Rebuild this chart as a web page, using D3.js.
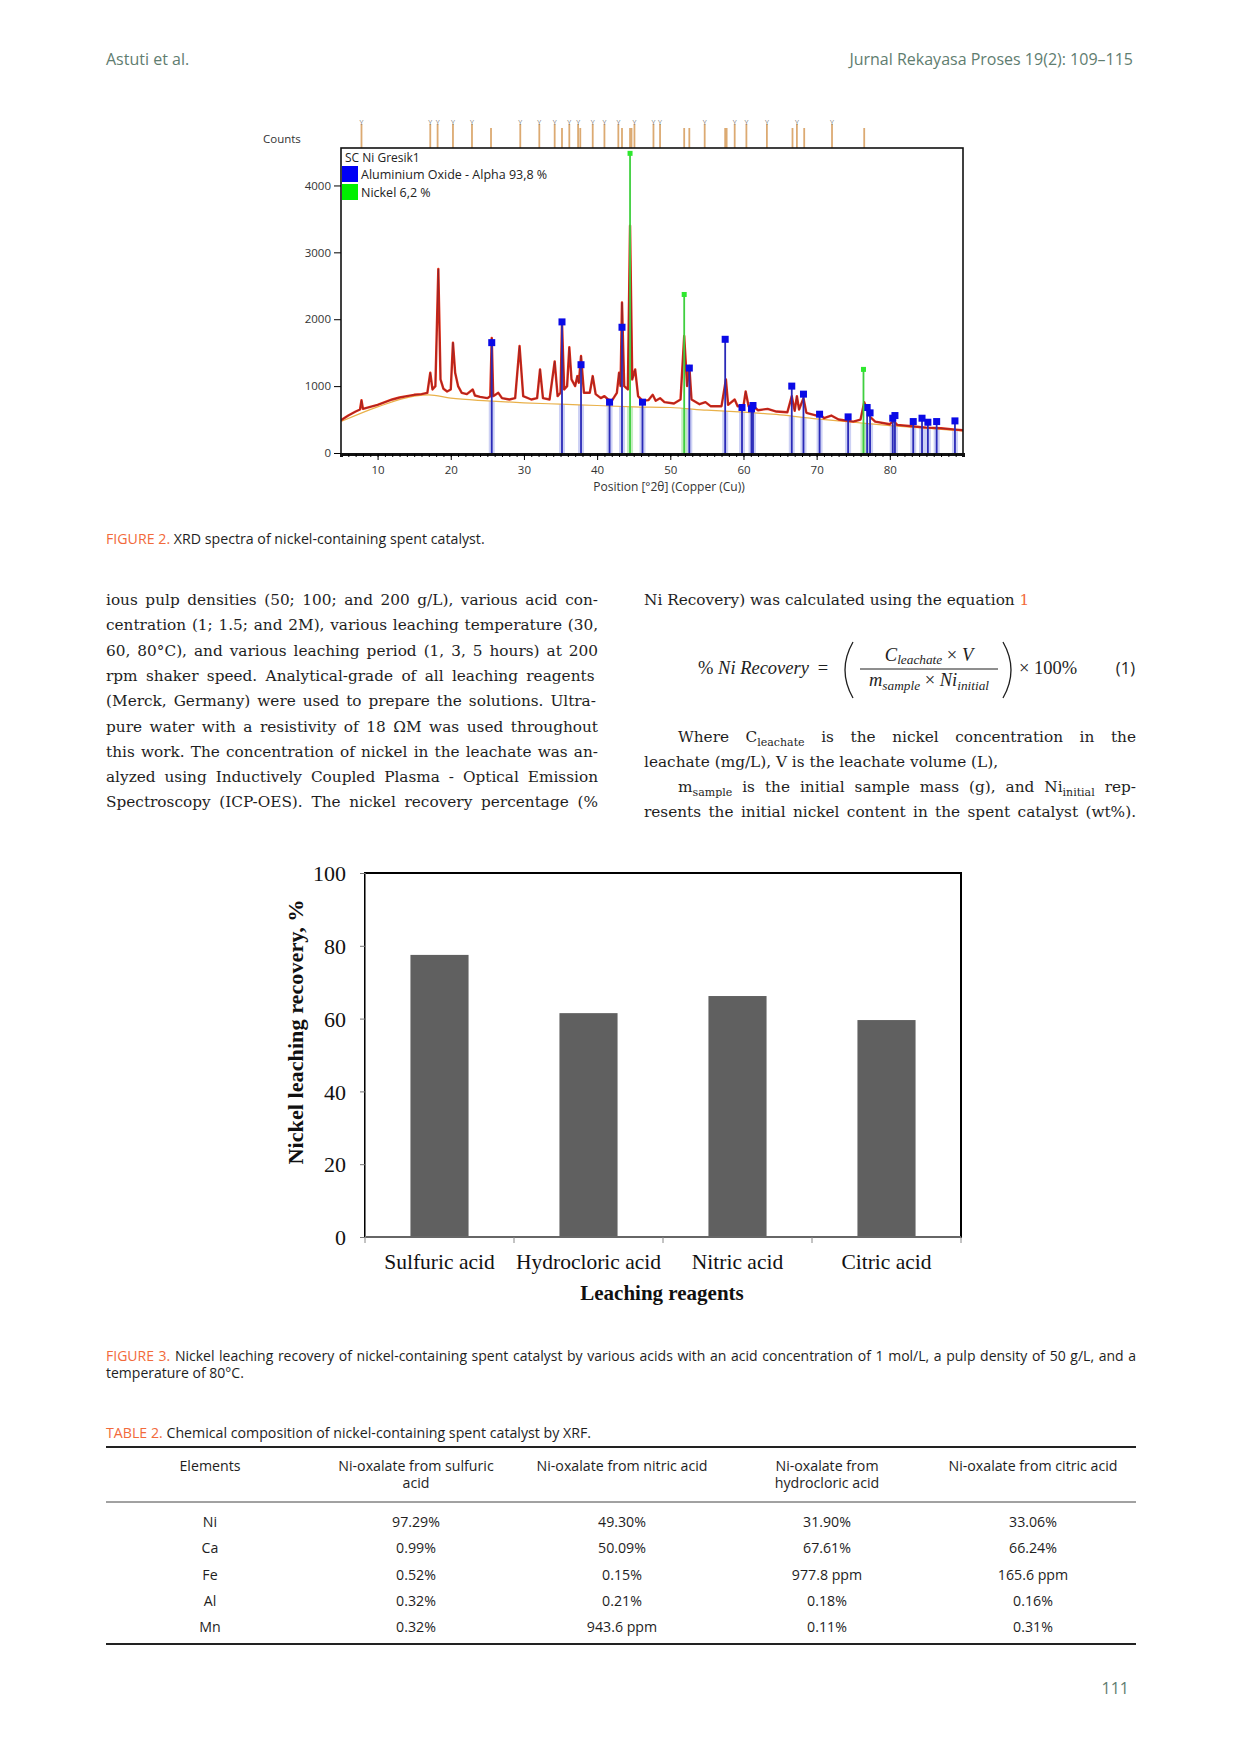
<!DOCTYPE html>
<html>
<head>
<meta charset="utf-8">
<script src="https://cdn.jsdelivr.net/npm/d3@7"></script>
<style>
body { margin: 0; background: #fff; }
svg { display: block; }
</style>
</head>
<body>
<div id="page"></div>
<script>
// ====== Page data ======

const headerLeft = 'Astuti et al.';
const headerRight = 'Jurnal Rekayasa Proses 19(2): 109\u2013115';
const pageNumber = '111';

// XRD pattern, observed (2theta, counts)
const xrdAngle = [5.0, 6.0, 7.0, 7.6, 7.8, 8.0, 9.0, 10.0, 11.0, 12.0, 13.0, 14.0, 15.0, 16.0, 16.8, 17.2, 17.5, 17.9, 18.3, 18.6,
  19.0, 19.5, 20.0, 20.3, 20.6, 21.0, 21.5, 22.2, 23.0, 23.3, 24.0, 25.0, 25.4, 25.6, 25.8, 26.5, 27.0, 28.0, 28.8, 29.4,
  29.9, 31.0, 31.8, 32.2, 32.6, 33.5, 34.2, 34.6, 35.0, 35.2, 35.5, 35.9, 36.2, 36.5, 37.0, 37.3, 37.5, 37.8, 38.2, 39.0,
  39.4, 39.8, 40.5, 41.0, 41.5, 42.0, 42.7, 43.0, 43.2, 43.4, 43.7, 44.2, 44.5, 44.8, 45.2, 45.6, 46.2, 47.0, 47.6, 48.0,
  48.6, 49.2, 50.5, 51.4, 51.9, 52.3, 52.6, 52.9, 54.0, 54.8, 55.5, 57.0, 57.6, 57.9, 58.8, 59.2, 60.0, 60.3, 60.7, 61.2,
  62.0, 63.3, 64.5, 66.0, 66.6, 67.0, 67.3, 67.6, 68.2, 68.6, 70.0, 70.5, 71.0, 72.0, 73.0, 75.0, 76.0, 76.5, 76.9, 77.3,
  78.0, 80.0, 80.5, 81.0, 83.0, 85.0, 87.0, 89.0, 90.0];
const xrdCounts = [490, 560, 620, 650, 790, 660, 690, 720, 760, 800, 830, 850, 870, 880, 900, 1200, 950, 1000, 2750, 1100,
  960, 920, 950, 1650, 1200, 1000, 900, 880, 950, 860, 840, 820, 850, 1720, 850, 900, 820, 800, 820, 1600,
  850, 800, 820, 1250, 820, 800, 1370, 850, 900, 1950, 950, 1000, 1580, 1100, 1000, 1150, 1050, 1450, 900, 900,
  1150, 880, 820, 850, 800, 780, 900, 1200, 1000, 2250, 1000, 950, 3400, 1100, 1250, 850, 780, 790, 870, 780,
  820, 760, 740, 800, 1750, 1000, 1300, 800, 730, 760, 700, 700, 1100, 720, 800, 700, 700, 920, 700, 710,
  640, 660, 620, 610, 850, 630, 850, 650, 820, 600, 560, 580, 520, 560, 500, 470, 500, 760, 650, 540,
  470, 430, 480, 420, 400, 380, 370, 350, 340];

// XRD background (2theta, counts)
const bgAngle = [5, 10, 15, 17, 20, 25, 30, 35, 40, 45, 50, 55, 60, 65, 70, 75, 80, 85, 90];
const bgCounts = [470, 690, 850, 870, 820, 780, 750, 730, 710, 690, 680, 640, 610, 570, 510, 460, 410, 370, 330];

// Reference sticks: Aluminium Oxide - Alpha
const alAngle = [25.6, 35.2, 37.8, 41.7, 43.4, 46.2, 52.6, 57.5, 59.8, 61.1, 61.3, 66.6, 68.2, 70.4, 74.3, 76.9,
  77.3, 80.4, 80.7, 83.2, 84.4, 85.2, 86.4, 88.9];
const alCounts = [1650, 1960, 1320, 760, 1880, 760, 1270, 1700, 680, 660, 710, 1000, 880, 580, 540, 680,
  600, 520, 560, 470, 520, 460, 470, 480];

// Reference sticks: Nickel
const niAngle = [44.5, 51.9, 76.4];
const niCounts = [4480, 2370, 1250];

// Peak list shown above the plot (1 = with marker)
const peakAngle = [7.8, 17.2, 18.2, 20.3, 22.9, 25.5, 29.5, 32.1, 34.2, 35.2, 36.2, 37.4, 37.7, 39.4, 41.0, 42.9,
  43.4, 44.5, 44.7, 45.1, 47.7, 48.6, 51.9, 52.6, 54.7, 57.5, 57.7, 58.8, 60.4, 63.2, 66.7, 67.3, 68.3, 72.1, 76.5];
const peakMarked = [1, 1, 1, 1, 1, 0, 1, 1, 1, 0, 1, 1, 0, 1, 1, 1,
  0, 0, 0, 1, 1, 1, 0, 0, 1, 0, 0, 1, 1, 1, 0, 1, 0, 1, 0];

const xrdTicksX = [10, 20, 30, 40, 50, 60, 70, 80];
const xrdTicksY = [0, 1000, 2000, 3000, 4000];

// Figure 3: leaching recovery
const reagents = ['Sulfuric acid', 'Hydrocloric acid', 'Nitric acid', 'Citric acid'];
const recovery = [77.5, 61.5, 66.2, 59.6];
const recoveryTicks = [0, 20, 40, 60, 80, 100];

// Table 2
const tableHead = [['Elements'], ['Ni-oxalate from sulfuric', 'acid'], ['Ni-oxalate from nitric acid'],
  ['Ni-oxalate from', 'hydrocloric acid'], ['Ni-oxalate from citric acid']];
const elements = ['Ni', 'Ca', 'Fe', 'Al', 'Mn'];
const fromSulfuric = ['97.29%', '0.99%', '0.52%', '0.32%', '0.32%'];
const fromNitric = ['49.30%', '50.09%', '0.15%', '0.21%', '943.6 ppm'];
const fromHydrocloric = ['31.90%', '67.61%', '977.8 ppm', '0.18%', '0.11%'];
const fromCitric = ['33.06%', '66.24%', '165.6 ppm', '0.16%', '0.31%'];

// Body text
const leftLines = [
  'ious pulp densities (50; 100; and 200 g/L), various acid con-',
  'centration (1; 1.5; and 2M), various leaching temperature (30,',
  '60, 80\u00b0C), and various leaching period (1, 3, 5 hours) at 200',
  'rpm shaker speed.  Analytical-grade of all leaching reagents',
  '(Merck, Germany) were used to prepare the solutions.  Ultra-',
  'pure water with a resistivity of 18 \u03a9M was used throughout',
  'this work. The concentration of nickel in the leachate was an-',
  'alyzed using Inductively Coupled Plasma - Optical Emission',
  'Spectroscopy (ICP-OES). The nickel recovery percentage (%'
];

// ====== Drawing ======

const W = 1240, H = 1754;
const SANS = "'Open Sans', 'Noto Sans', sans-serif";
const SERIF = "'Liberation Serif', 'Times New Roman', serif";
const BODY = "'DejaVu Serif', serif";
const XRD_FONT = "'Open Sans', 'Noto Sans', sans-serif";
const MUTED = '#5f7d70';
const ORANGE = '#f26a3b';
const INK = '#1e1e1e';

const svg = d3.select('#page').append('svg')
  .attr('width', W)
  .attr('height', H);

svg.append('rect').attr('width', W).attr('height', H).attr('fill', '#fff');

// Writes one line of text made of segments; justifies it to "width" if given
function textLine(g, x, y, segs, o) {
  const size = o.size;
  const drop = o.drop || 0.3;
  const t = g.append('text')
    .attr('x', x).attr('y', y)
    .attr('font-family', o.font)
    .attr('font-size', size)
    .attr('fill', o.fill || INK);
  if (o.anchor) t.attr('text-anchor', o.anchor);
  if (o.weight) t.attr('font-weight', o.weight);
  if (o.italic) t.attr('font-style', 'italic');
  let lowered = false;
  segs.forEach(function(s) {
    if (typeof s === 'string') s = { t: s };
    const sp = t.append('tspan').text(s.t);
    if (s.fill) sp.attr('fill', s.fill);
    if (s.italic) sp.attr('font-style', 'italic');
    if (s.sub) {
      sp.attr('font-size', size * 0.72);
      if (!lowered) sp.attr('dy', size * drop);
      lowered = true;
    } else if (lowered) {
      sp.attr('dy', -size * drop);
      lowered = false;
    }
  });
  if (o.width) {
    const natural = t.node().getComputedTextLength();
    const text = segs.map(function(s) { return typeof s === 'string' ? s : s.t; }).join('');
    const spaces = (text.match(/ /g) || []).length;
    if (natural < o.width && spaces > 0) {
      t.attr('word-spacing', (o.width - natural) / spaces);
    } else {
      t.attr('textLength', o.width).attr('lengthAdjust', 'spacingAndGlyphs');
    }
  }
  return t;
}

// ---- Running header and page number ----
textLine(svg, 106, 65, [headerLeft], { font: SANS, size: 16, fill: MUTED });
textLine(svg, 1133, 65, [headerRight], { font: SANS, size: 16, fill: MUTED, anchor: 'end' });
textLine(svg, 1129, 1694, [pageNumber], { font: SANS, size: 16, fill: MUTED, anchor: 'end' });

// ---- Figure 2: XRD spectrum ----
const xrd = { left: 341, right: 963, top: 148, bottom: 454 };
const xX = d3.scaleLinear().domain([5, 90]).range([xrd.left, xrd.right]);
const yX = d3.scaleLinear().domain([0, 4560]).range([xrd.bottom - 1, xrd.top]);
const bgAt = d3.scaleLinear().domain(bgAngle).range(bgCounts);

const gx = svg.append('g').attr('class', 'xrd');

gx.append('defs').append('clipPath').attr('id', 'xrd-clip')
  .append('rect')
  .attr('x', xrd.left).attr('y', xrd.top)
  .attr('width', xrd.right - xrd.left).attr('height', xrd.bottom - xrd.top);

const plot = gx.append('g').attr('clip-path', 'url(#xrd-clip)');

// light fills under the reference sticks
plot.selectAll('.al-fill')
  .data(alAngle)
  .enter().append('rect')
  .attr('class', 'al-fill')
  .attr('x', function(d) { return xX(d) - 3; })
  .attr('width', 6)
  .attr('y', function(d) { return yX(bgAt(d)); })
  .attr('height', function(d) { return yX(0) - yX(bgAt(d)); })
  .attr('fill', '#b8bdf0')
  .attr('opacity', 0.7);

plot.selectAll('.ni-fill')
  .data(niAngle)
  .enter().append('rect')
  .attr('class', 'ni-fill')
  .attr('x', function(d) { return xX(d) - 3; })
  .attr('width', 6)
  .attr('y', function(d) { return yX(bgAt(d)); })
  .attr('height', function(d) { return yX(0) - yX(bgAt(d)); })
  .attr('fill', '#b6e8b0')
  .attr('opacity', 0.8);

// background line
const bgLine = d3.line()
  .x(function(d, i) { return xX(bgAngle[i]); })
  .y(function(d) { return yX(d); })
  .curve(d3.curveMonotoneX);
plot.append('path')
  .datum(bgCounts)
  .attr('d', bgLine)
  .attr('fill', 'none')
  .attr('stroke', '#e9b14a')
  .attr('stroke-width', 1.2);

// observed pattern
const obsLine = d3.line()
  .x(function(d, i) { return xX(xrdAngle[i]); })
  .y(function(d) { return yX(d); });
plot.append('path')
  .datum(xrdCounts)
  .attr('d', obsLine)
  .attr('fill', 'none')
  .attr('stroke', '#e02a12')
  .attr('stroke-width', 2.4)
  .attr('stroke-linejoin', 'round');
plot.append('path')
  .datum(xrdCounts)
  .attr('d', obsLine)
  .attr('fill', 'none')
  .attr('stroke', '#5a2040')
  .attr('stroke-width', 0.9)
  .attr('opacity', 0.55);

// Aluminium oxide sticks
plot.selectAll('.al-stick')
  .data(alCounts)
  .enter().append('line')
  .attr('class', 'al-stick')
  .attr('x1', function(d, i) { return xX(alAngle[i]); })
  .attr('x2', function(d, i) { return xX(alAngle[i]); })
  .attr('y1', yX(0))
  .attr('y2', function(d) { return yX(d); })
  .attr('stroke', '#2a2ab8')
  .attr('stroke-width', 1.8);
plot.selectAll('.al-mark')
  .data(alCounts)
  .enter().append('rect')
  .attr('class', 'al-mark')
  .attr('x', function(d, i) { return xX(alAngle[i]) - 3.5; })
  .attr('y', function(d) { return yX(d) - 3.5; })
  .attr('width', 7).attr('height', 7)
  .attr('fill', '#0a0ae6');

// Nickel sticks
plot.selectAll('.ni-stick')
  .data(niCounts)
  .enter().append('line')
  .attr('class', 'ni-stick')
  .attr('x1', function(d, i) { return xX(niAngle[i]); })
  .attr('x2', function(d, i) { return xX(niAngle[i]); })
  .attr('y1', yX(0))
  .attr('y2', function(d) { return yX(d); })
  .attr('stroke', '#3fcf3f')
  .attr('stroke-width', 1.8);
plot.selectAll('.ni-mark')
  .data(niCounts)
  .enter().append('rect')
  .attr('class', 'ni-mark')
  .attr('x', function(d, i) { return xX(niAngle[i]) - 2.5; })
  .attr('y', function(d) { return yX(d) - 2.5; })
  .attr('width', 5).attr('height', 5)
  .attr('fill', '#2ee82e');

// peak list above the frame
gx.selectAll('.peak')
  .data(peakAngle)
  .enter().append('line')
  .attr('class', 'peak')
  .attr('x1', function(d) { return xX(d); })
  .attr('x2', function(d) { return xX(d); })
  .attr('y1', function(d, i) { return peakMarked[i] ? xrd.top - 24 : xrd.top - 20; })
  .attr('y2', xrd.top)
  .attr('stroke', '#dcaa72')
  .attr('stroke-width', 1.8);
gx.selectAll('.peak-y')
  .data(peakAngle.filter(function(d, i) { return peakMarked[i]; }))
  .enter().append('text')
  .attr('class', 'peak-y')
  .attr('x', function(d) { return xX(d); })
  .attr('y', xrd.top - 23)
  .attr('text-anchor', 'middle')
  .attr('font-family', XRD_FONT)
  .attr('font-size', 7)
  .attr('fill', '#777')
  .text('Y');

// frame and axes
gx.append('rect')
  .attr('x', xrd.left).attr('y', xrd.top)
  .attr('width', xrd.right - xrd.left).attr('height', xrd.bottom - xrd.top)
  .attr('fill', 'none')
  .attr('stroke', '#111')
  .attr('stroke-width', 1.6);

const axMinor = gx.append('g')
  .attr('transform', 'translate(0,' + xrd.bottom + ')')
  .call(d3.axisBottom(xX).tickValues(d3.range(6, 90, 1)).tickSize(3).tickFormat(''));
axMinor.select('.domain').attr('stroke-width', 3).attr('stroke', '#111');

const axX = gx.append('g')
  .attr('transform', 'translate(0,' + xrd.bottom + ')')
  .call(d3.axisBottom(xX).tickValues(xrdTicksX).tickSize(6).tickPadding(6));
axX.select('.domain').remove();
axX.selectAll('text').attr('font-family', XRD_FONT).attr('font-size', 11.5).attr('fill', '#333');

const axY = gx.append('g')
  .attr('transform', 'translate(' + xrd.left + ',0)')
  .call(d3.axisLeft(yX).tickValues(xrdTicksY).tickSize(7).tickPadding(3).tickFormat(d3.format('d')));
axY.select('.domain').remove();
axY.selectAll('text').attr('font-family', XRD_FONT).attr('font-size', 11.5).attr('fill', '#333');

textLine(gx, 263, 143, ['Counts'], { font: XRD_FONT, size: 11.5, fill: '#333' });
textLine(gx, 669, 491, ['Position [\u00b02\u03b8] (Copper (Cu))'], { font: XRD_FONT, size: 12, fill: '#333', anchor: 'middle' });

// legend
textLine(gx, 345, 162, ['SC Ni Gresik1'], { font: XRD_FONT, size: 12, fill: '#222' });
const legendItems = [
  { label: 'Aluminium Oxide - Alpha 93,8 %', color: '#0000f5' },
  { label: 'Nickel 6,2 %', color: '#00f000' }
];
legendItems.forEach(function(d, i) {
  gx.append('rect')
    .attr('x', xrd.left + 1).attr('y', 166 + i * 18)
    .attr('width', 16).attr('height', 16)
    .attr('fill', d.color);
  textLine(gx, 361, 179 + i * 18, [d.label], { font: XRD_FONT, size: 12.5, fill: '#222' });
});

// caption
textLine(svg, 106, 544, [{ t: 'FIGURE 2.', fill: ORANGE }, ' XRD spectra of nickel-containing spent catalyst.'],
  { font: SANS, size: 14.2 });

// ---- Body text ----
const body = { size: 15.3, font: BODY };
leftLines.forEach(function(line, i) {
  textLine(svg, 106, 605 + i * 25.3, [line], { font: body.font, size: body.size, width: 492 });
});

textLine(svg, 644, 605, ['Ni Recovery) was calculated using the equation ', { t: '1', fill: ORANGE }],
  { font: body.font, size: body.size });

// equation (1)
const eq = svg.append('g').attr('class', 'equation');
const EQ = 18.5;
textLine(eq, 698, 674, ['% ', { t: 'Ni Recovery', italic: true }], { font: SERIF, size: EQ });
textLine(eq, 823, 674, ['='], { font: SERIF, size: EQ, anchor: 'middle' });
textLine(eq, 929, 661, [{ t: 'C', italic: true }, { t: 'leachate', italic: true, sub: true }, ' \u00d7 ', { t: 'V', italic: true }],
  { font: SERIF, size: EQ, anchor: 'middle', drop: 0.18 });
textLine(eq, 929, 686, [{ t: 'm', italic: true }, { t: 'sample', italic: true, sub: true }, ' \u00d7  ', { t: 'Ni', italic: true }, { t: 'initial', italic: true, sub: true }],
  { font: SERIF, size: EQ, anchor: 'middle', drop: 0.2 });
eq.append('line')
  .attr('x1', 860).attr('x2', 998).attr('y1', 669).attr('y2', 669)
  .attr('stroke', INK).attr('stroke-width', 1);
const paren = d3.path();
paren.moveTo(853, 642); paren.quadraticCurveTo(837, 670, 853, 698);
paren.moveTo(1003, 642); paren.quadraticCurveTo(1019, 670, 1003, 698);
eq.append('path').attr('d', paren.toString())
  .attr('fill', 'none').attr('stroke', INK).attr('stroke-width', 1.3);
textLine(eq, 1019, 674, ['\u00d7 100%'], { font: SERIF, size: EQ });
textLine(eq, 1135, 674, ['(1)'], { font: SANS, size: 16.5, anchor: 'end' });

textLine(svg, 678, 742, ['Where C', { t: 'leachate', sub: true }, ' is the nickel concentration in the'],
  { font: body.font, size: body.size, width: 458, drop: 0.25 });
textLine(svg, 644, 767, ['leachate (mg/L), V is the leachate volume (L),'], { font: body.font, size: body.size });
textLine(svg, 678, 792, ['m', { t: 'sample', sub: true }, ' is the initial sample mass (g), and Ni', { t: 'initial', sub: true }, ' rep-'],
  { font: body.font, size: body.size, width: 458, drop: 0.25 });
textLine(svg, 644, 817, ['resents the initial nickel content in the spent catalyst (wt%).'],
  { font: body.font, size: body.size, width: 492 });

// ---- Figure 3: bar chart ----
const bar = { left: 365, right: 961, top: 873, bottom: 1237 };
const xB = d3.scaleBand().domain(reagents).range([bar.left, bar.right]).padding(0);
const yB = d3.scaleLinear().domain([0, 100]).range([bar.bottom, bar.top]);
const barWidth = xB.bandwidth() * 0.39;

const gb = svg.append('g').attr('class', 'bars');

gb.selectAll('.bar')
  .data(recovery)
  .enter().append('rect')
  .attr('class', 'bar')
  .attr('x', function(d, i) { return xB(reagents[i]) + (xB.bandwidth() - barWidth) / 2; })
  .attr('width', barWidth)
  .attr('y', function(d) { return yB(d); })
  .attr('height', function(d) { return yB(0) - yB(d); })
  .attr('fill', '#606060');

gb.append('rect')
  .attr('x', bar.left).attr('y', bar.top)
  .attr('width', bar.right - bar.left).attr('height', bar.bottom - bar.top)
  .attr('fill', 'none')
  .attr('stroke', '#000')
  .attr('stroke-width', 2);

const byAxis = gb.append('g')
  .attr('transform', 'translate(' + bar.left + ',0)')
  .call(d3.axisLeft(yB).tickValues(recoveryTicks).tickSize(5).tickPadding(14));
byAxis.select('.domain').attr('stroke', '#777');
byAxis.selectAll('.tick line').attr('stroke', '#777');
byAxis.selectAll('text').attr('font-family', SERIF).attr('font-size', 22).attr('fill', '#111').attr('dy', '0.35em');

// category separators below the axis
const sepAt = reagents.map(function(d) { return xB(d); }).concat([bar.right]);
gb.append('line')
  .attr('x1', bar.left).attr('x2', bar.right)
  .attr('y1', bar.bottom).attr('y2', bar.bottom)
  .attr('stroke', '#888').attr('stroke-width', 1.5);
gb.selectAll('.sep')
  .data(sepAt)
  .enter().append('line')
  .attr('class', 'sep')
  .attr('x1', function(d) { return d; }).attr('x2', function(d) { return d; })
  .attr('y1', bar.bottom).attr('y2', bar.bottom + 6)
  .attr('stroke', '#888');

gb.selectAll('.cat')
  .data(reagents)
  .enter().append('text')
  .attr('class', 'cat')
  .attr('x', function(d) { return xB(d) + xB.bandwidth() / 2; })
  .attr('y', 1269)
  .attr('text-anchor', 'middle')
  .attr('font-family', SERIF)
  .attr('font-size', 21.5)
  .attr('fill', '#111')
  .text(function(d) { return d; });

textLine(gb, (bar.left + bar.right) / 2 - 1, 1300, ['Leaching reagents'],
  { font: SERIF, size: 21, weight: 'bold', anchor: 'middle', fill: '#111' });
gb.append('text')
  .attr('transform', 'translate(303,1032) rotate(-90)')
  .attr('text-anchor', 'middle')
  .attr('font-family', SERIF)
  .attr('font-size', 21)
  .attr('font-weight', 'bold')
  .attr('fill', '#111')
  .attr('textLength', 265)
  .attr('lengthAdjust', 'spacingAndGlyphs')
  .text('Nickel  leaching recovery, %');

// caption
textLine(svg, 106, 1361, [{ t: 'FIGURE 3.', fill: ORANGE },
  ' Nickel leaching recovery of nickel-containing spent catalyst by various acids with an acid concentration of 1 mol/L, a pulp density of 50 g/L, and a'],
  { font: SANS, size: 14, width: 1030 });
textLine(svg, 106, 1378, ['temperature of 80\u00b0C.'], { font: SANS, size: 14 });

// ---- Table 2 ----
textLine(svg, 106, 1438, [{ t: 'TABLE 2.', fill: ORANGE }, ' Chemical composition of nickel-containing spent catalyst by XRF.'],
  { font: SANS, size: 14.2 });

const gt = svg.append('g').attr('class', 'table');
const colX = [210, 416, 622, 827, 1033];
const columns = [elements, fromSulfuric, fromNitric, fromHydrocloric, fromCitric];

gt.append('line').attr('x1', 106).attr('x2', 1136).attr('y1', 1447).attr('y2', 1447)
  .attr('stroke', '#222').attr('stroke-width', 2);
gt.append('line').attr('x1', 106).attr('x2', 1136).attr('y1', 1502).attr('y2', 1502)
  .attr('stroke', '#444').attr('stroke-width', 1);
gt.append('line').attr('x1', 106).attr('x2', 1136).attr('y1', 1644).attr('y2', 1644)
  .attr('stroke', '#222').attr('stroke-width', 2);

tableHead.forEach(function(lines, c) {
  lines.forEach(function(l, k) {
    textLine(gt, colX[c], 1471 + k * 17, [l], { font: SANS, size: 14.2, anchor: 'middle' });
  });
});

columns.forEach(function(col, c) {
  col.forEach(function(v, r) {
    textLine(gt, colX[c], 1527 + r * 26.3, [v], { font: SANS, size: 14.2, anchor: 'middle' });
  });
});
</script>
</body>
</html>
